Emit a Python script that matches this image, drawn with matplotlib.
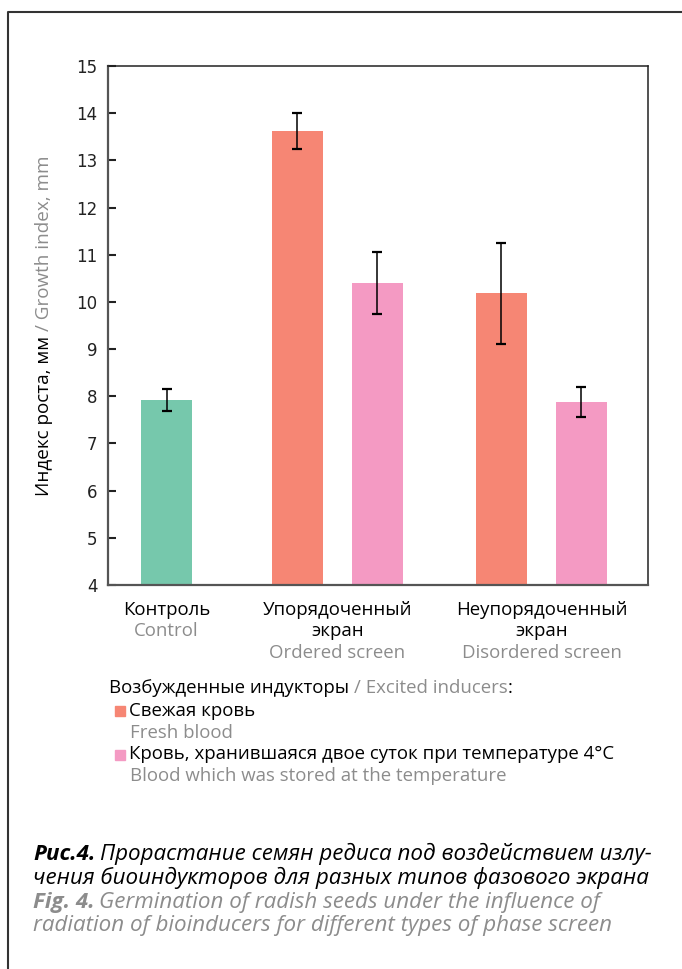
import matplotlib.pyplot as plt
from matplotlib.lines import Line2D
from matplotlib.patches import Rectangle

# data
values = [7.92, 13.62, 10.40, 10.18, 7.88]
errors = [0.24, 0.38, 0.66, 1.07, 0.31]
kinds = ['control', 'fresh', 'stored', 'fresh', 'stored']
cat_ru = ['Контроль', 'Упорядоченный\nэкран', 'Неупорядоченный\nэкран']
cat_en = ['Control', 'Ordered screen', 'Disordered screen']
yticks = [4, 5, 6, 7, 8, 9, 10, 11, 12, 13, 14, 15]

colors = {'control': '#76C8AC', 'fresh': '#F68674', 'stored': '#F49AC3'}
GREY = '#8c8c8c'
FONT = ['Open Sans', 'DejaVu Sans']
CAP = ['Open Sans', 'DejaVu Sans']
FS = 13.4

W, H, DPI = 682, 969, 100
fig = plt.figure(figsize=(W / DPI, H / DPI), dpi=DPI)
ax = fig.add_axes([108 / W, 1 - 585 / H, 540 / W, 519 / H])

# bar layout: control alone, then two pairs
group_x = [0, 2.136, 4.686]
pos = [group_x[0], group_x[1] - 0.5, group_x[1] + 0.5, group_x[2] - 0.5, group_x[2] + 0.5]
ax.bar(pos, values, width=0.64, color=[colors[k] for k in kinds],
       yerr=errors, capsize=3.3,
       error_kw=dict(elinewidth=1.1, capthick=1.6, ecolor='black'))

ax.set_xlim(-0.7325, 6.0175)
ax.set_ylim(4, 15)
ax.set_yticks(yticks)
ax.set_xticks([])
ax.tick_params(axis='y', direction='in', length=6, width=1.5, pad=7.5,
               labelsize=12, colors='#222222')
for s in ['left', 'bottom']:
    ax.spines[s].set_color('#555555')
    ax.spines[s].set_linewidth(1.6)
for s in ['top', 'right']:
    ax.spines[s].set_color('#222222')
    ax.spines[s].set_linewidth(1.1)

renderer = fig.canvas.get_renderer()


def put_row(pieces, x, y, size, family=FONT, ha='left', rotation=0, gapf=0.27):
    # pieces: (text, color, style, weight); x, y in pixels from top-left
    arts = []
    for text, color, style, weight in pieces:
        t = fig.text(0, 0, text, fontsize=size, color=color, family=family,
                     fontstyle=style, fontweight=weight, rotation=rotation,
                     rotation_mode='anchor', ha='left', va='baseline')
        arts.append(t)
    gap = size * gapf * DPI / 72
    lens = []
    for t in arts:
        bb = t.get_window_extent(renderer)
        lens.append(bb.height if rotation else bb.width)
    total = sum(lens) + gap * (len(arts) - 1)
    start = -total / 2 if ha == 'center' else 0
    for t, L in zip(arts, lens):
        if rotation:
            t.set_position((x / W, 1 - (y - start) / H))
        else:
            t.set_position(((x + start) / W, 1 - y / H))
        start += L + gap
    return arts


# category labels
xpix = [ax.transData.transform((g, 0))[0] for g in group_x]
for i, (ru, en) in enumerate(zip(cat_ru, cat_en)):
    y = 615
    for ln in ru.split('\n'):
        put_row([(ln, 'black', 'normal', 'normal')], xpix[i], y, FS, ha='center')
        y += 21.5
    put_row([(en, GREY, 'normal', 'normal')], xpix[i], y, FS, ha='center')

# y label
put_row([('Индекс роста, мм', 'black', 'normal', 'normal'),
         ('/ Growth index, mm', GREY, 'normal', 'normal')],
        48.5, 325.5, 13.6, ha='center', rotation=90)

# legend
hdr = put_row([('Возбужденные индукторы', 'black', 'normal', 'normal'),
               ('/ Excited inducers', GREY, 'normal', 'normal')], 109, 693, FS)
bb = hdr[-1].get_window_extent(renderer)
fig.text(bb.x1 / W, 1 - 693 / H, ':', fontsize=FS, family=FONT, va='baseline')

leg = [('Свежая кровь', 'Fresh blood', colors['fresh'], 715.5),
       ('Кровь, хранившаяся двое суток при температуре 4°C',
        'Blood which was stored at the temperature', colors['stored'], 759)]
for ru, en, c, y in leg:
    fig.patches.append(Rectangle((115 / W, 1 - (y + 0.5) / H), 10 / W, 10 / H,
                                 transform=fig.transFigure, color=c))
    put_row([(ru, 'black', 'normal', 'normal')], 129, y, FS)
    put_row([(en, GREY, 'normal', 'normal')], 130, y + 22, FS)

# caption
CS = 16.1
put_row([('Рис.4.', 'black', 'italic', 'bold'),
         ('Прорастание семян редиса под воздействием излу-', 'black', 'italic', 'normal')],
        33, 860, CS, family=CAP, gapf=0.2)
put_row([('чения биоиндукторов для разных типов фазового экрана', 'black', 'italic', 'normal')],
        33, 884, CS, family=CAP)
put_row([('Fig. 4.', GREY, 'italic', 'bold'),
         ('Germination of radish seeds under the influence of', GREY, 'italic', 'normal')],
        33, 908, CS, family=CAP, gapf=0.2)
put_row([('radiation of bioinducers for different types of phase screen', GREY, 'italic', 'normal')],
        33, 931.5, CS, family=CAP)

# outer frame
fig.add_artist(Line2D([8 / W, 8 / W, 1], [0, 1 - 12 / H, 1 - 12 / H],
                      transform=fig.transFigure, color='#333333', lw=1.5))

fig.savefig('out.png', dpi=DPI)
